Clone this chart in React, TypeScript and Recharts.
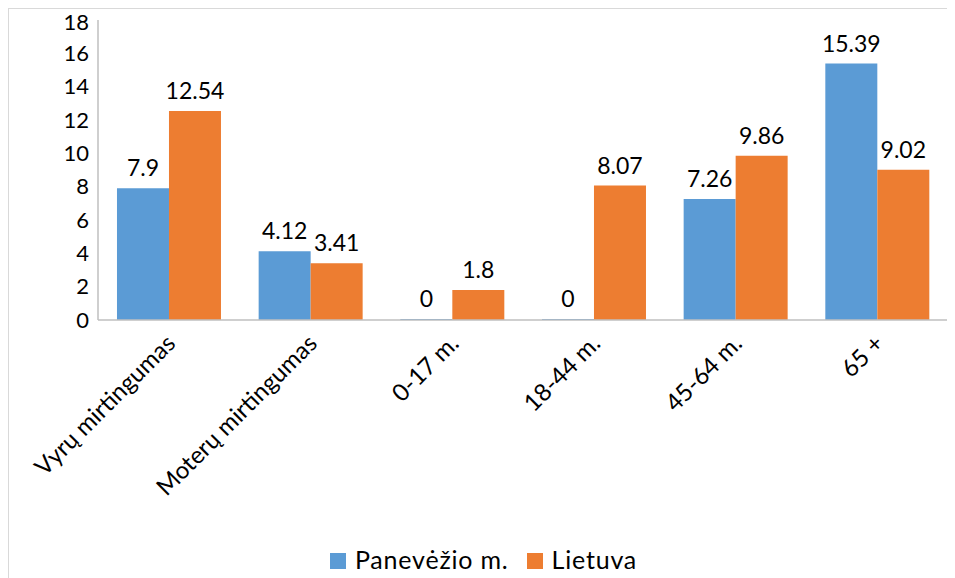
import { Bar, BarChart, LabelList, Legend, XAxis, YAxis } from "recharts"

const categories = [
  "Vyrų mirtingumas",
  "Moterų mirtingumas",
  "0-17 m.",
  "18-44 m.",
  "45-64 m.",
  "65 +",
]
const panevezys = [7.9, 4.12, 0, 0, 7.26, 15.39]
const lietuva = [12.54, 3.41, 1.8, 8.07, 9.86, 9.02]
const yTicks = [0, 2, 4, 6, 8, 10, 12, 14, 16, 18]

const seriesNames = ["Panevėžio m.", "Lietuva"]
const colors = ["#5B9BD5", "#ED7D31"]

const data = categories.map((name, i) => ({
  name,
  panevezys: panevezys[i],
  lietuva: lietuva[i],
}))

const font = "Lato, 'Open Sans', sans-serif"

function CategoryTick(props: any) {
  const { x, y, payload } = props
  return (
    <g transform={`translate(${x + 8},${y + 25})`}>
      <text
        transform="rotate(-45)"
        textAnchor="end"
        fontFamily={font}
        fontSize={24}
        fill="#000"
      >
        {payload.value}
      </text>
    </g>
  )
}

function LegendContent() {
  return (
    <div
      style={{
        display: "flex",
        justifyContent: "center",
        alignItems: "center",
        height: 30,
        fontFamily: font,
        fontSize: 25,
        letterSpacing: 0.8,
        color: "#000",
        paddingLeft: 10,
      }}
    >
      {seriesNames.map((name, i) => (
        <span
          key={name}
          style={{ display: "flex", alignItems: "center", marginRight: i === 0 ? 18 : 0 }}
        >
          <span
            style={{
              display: "inline-block",
              width: 16,
              height: 16,
              background: colors[i],
              marginRight: 9,
              marginTop: 3,
            }}
          />
          {name}
        </span>
      ))}
    </div>
  )
}

export default function App() {
  return (
    <div
      style={{
        width: 946,
        height: 569,
        borderTop: "1px solid #d9d9d9",
        borderLeft: "1px solid #d9d9d9",
        background: "#fff",
      }}
    >
      <BarChart
        width={946}
        height={569}
        data={data}
        margin={{ top: 11, right: 7, bottom: 0, left: 0 }}
        barCategoryGap="13.4%"
        barGap={0}
      >
        <XAxis
          dataKey="name"
          height={228}
          interval={0}
          tick={<CategoryTick />}
          tickLine={false}
          tickSize={0}
          tickMargin={0}
          axisLine={{ stroke: "#bfbfbf", strokeWidth: 1.5 }}
        />
        <YAxis
          width={89}
          domain={[0, 18]}
          ticks={yTicks}
          tickLine={false}
          tickSize={0}
          tickMargin={9}
          axisLine={{ stroke: "#bfbfbf", strokeWidth: 1.5 }}
          tick={{ fill: "#000", fontSize: 22, fontFamily: font }}
        />
        <Legend
          verticalAlign="bottom"
          content={<LegendContent />}
          wrapperStyle={{ bottom: 4 }}
        />
        <Bar
          dataKey="panevezys"
          name={seriesNames[0]}
          fill={colors[0]}
          minPointSize={1}
          isAnimationActive={false}
        >
          <LabelList
            dataKey="panevezys"
            position="top"
            offset={12}
            fill="#000"
            fontSize={23}
            fontFamily={font}
          />
        </Bar>
        <Bar
          dataKey="lietuva"
          name={seriesNames[1]}
          fill={colors[1]}
          isAnimationActive={false}
        >
          <LabelList
            dataKey="lietuva"
            position="top"
            offset={12}
            fill="#000"
            fontSize={23}
            fontFamily={font}
          />
        </Bar>
      </BarChart>
    </div>
  )
}
